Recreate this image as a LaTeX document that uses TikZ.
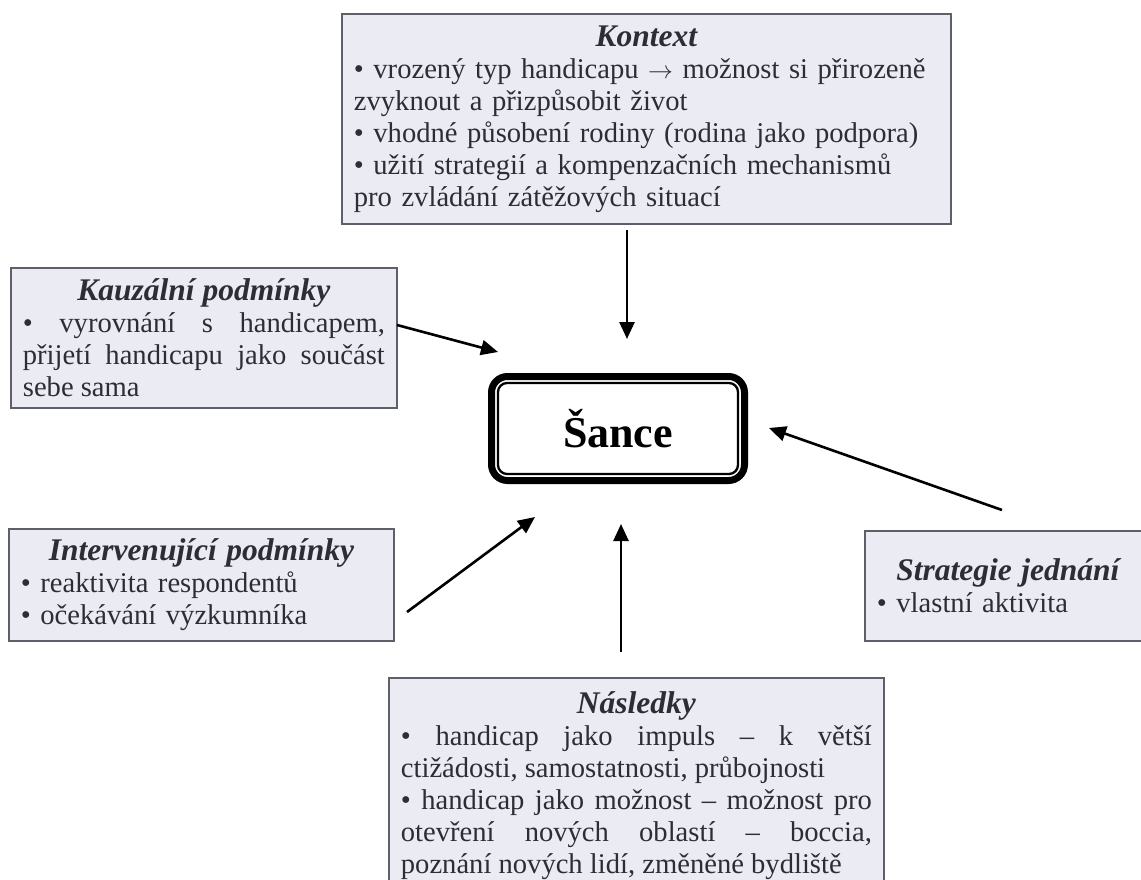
\documentclass[tikz,border=0pt]{standalone}
\usepackage{fontspec}
\setmainfont{Liberation Serif}
\usetikzlibrary{arrows.meta}
\definecolor{boxfill}{RGB}{234,235,243}
\definecolor{boxline}{RGB}{95,95,105}
\definecolor{txt}{RGB}{45,45,52}
\newcommand{\bodyf}{\fontsize{28.6}{32}\selectfont}
\newcommand{\titlef}{\fontsize{31.5}{35}\selectfont\bfseries\itshape}
\setlength{\parindent}{0pt}
\begin{document}
\begin{tikzpicture}[x=1pt,y=-1pt,
  box/.style={draw=boxline, fill=boxfill, line width=1.8pt, inner xsep=12pt, inner ysep=4pt,
              text=txt, font=\bodyf, anchor=north west},
  sancebox/.style={draw=black, line width=7pt, rounded corners=16pt, minimum width=253pt,
              minimum height=104pt, font=\fontsize{44}{48}\selectfont\bfseries, text=black},
  arr/.style={line width=2.6pt, -{Triangle[length=17pt,width=15pt]}}]
\useasboundingbox (0,0) rectangle (1141,880);
\fill[white] (0,0) rectangle (1141,880);

\node[box, text width=585pt, minimum height=210pt, align=left] (kontext) at (341,13) {%
  {\centering\titlef Kontext\par}
  • vrozený typ handicapu $\rightarrow$ možnost si přirozeně\\
  zvyknout a přizpůsobit život\\
  • vhodné působení rodiny (rodina jako podpora)\\
  • užití strategií a kompenzačních mechanismů\\
  pro zvládání zátěžových situací};

\node[box, text width=362pt, minimum height=140pt, align=justify] (kauzal) at (10,267) {%
  {\centering\titlef Kauzální podmínky\par}
  • vyrovnání s handicapem,\linebreak
  přijetí handicapu jako součást\linebreak
  sebe sama\par};

\node[box, text width=361pt, minimum height=112pt, align=left] (interv) at (8,528) {%
  {\centering\titlef Intervenující podmínky\par}
  • reaktivita respondentů\\
  • očekávání výzkumníka};

\node[box, text width=262pt, minimum height=110pt, align=left] (strat) at (864,530) {%
  {\centering\titlef Strategie jednání\par}
  • vlastní aktivita};

\node[box, text width=471pt, minimum height=215pt, inner ysep=9pt, align=justify] (nasl) at (388,677) {%
  {\centering\titlef Následky\par}
  • handicap jako impuls – k větší\linebreak
  ctižádosti, samostatnosti, průbojnosti\par
  • handicap jako možnost – možnost pro\linebreak
  otevření nových oblastí – boccia,\linebreak
  poznání nových lidí, změněné bydliště\par};

\node[sancebox] (sance) at (618,428.5) {Šance};
\draw[line width=2.3pt, rounded corners=9pt]
  ([shift={(10,10)}]sance.north west) rectangle ([shift={(-10,-10)}]sance.south east);

\coordinate (k1) at (627,230);  \coordinate (k2) at (627,339);
\coordinate (c1) at (397,325);  \coordinate (c2) at (498,352);
\coordinate (s1) at (1002,510); \coordinate (s2) at (769,428);
\coordinate (i1) at (407,612);  \coordinate (i2) at (535,517);
\coordinate (n1) at (621,652);  \coordinate (n2) at (621,524);
\draw[arr] (k1) -- (k2);
\draw[arr] (c1) -- (c2);
\draw[arr] (s1) -- (s2);
\draw[arr] (i1) -- (i2);
\draw[arr] (n1) -- (n2);
\end{tikzpicture}
\end{document}
